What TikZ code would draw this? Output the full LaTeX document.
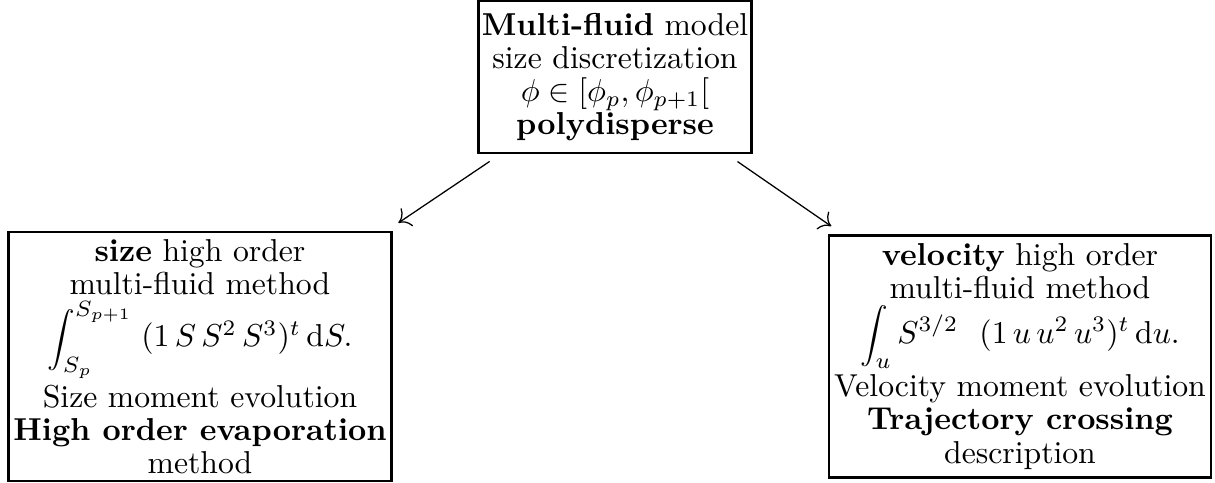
\documentclass[tikz,border=0pt]{standalone}
\usepackage{amsmath}
\usepackage{graphicx}
\usetikzlibrary{arrows.meta}
\newcommand{\limbox}[1]{\scalebox{1.15}{$\scriptstyle #1$}}
\newcommand{\intsmall}[1]{\scalebox{0.87}{$\displaystyle #1$}}
\begin{document}
\begin{tikzpicture}[x=0.3155pt,y=-0.3155pt,
  box/.style={draw,line width=0.8pt,align=center,inner sep=1pt,
    font=\fontsize{10}{10.5}\selectfont},
  link/.style={-{To[length=3.4pt,width=6.8pt]},line width=0.4pt,shorten <=4pt,shorten >=4.5pt}]
\useasboundingbox (0,0) rectangle (1215,482);
\node[box,minimum width=85.2pt,minimum height=48pt] (top) at (615,77)
  {\textbf{Multi-fluid} model\\ size discretization\\ $\phi\in[\phi_p,\phi_{p+1}[$\\ \textbf{polydisperse}};
\node[box,minimum width=121pt,minimum height=78.5pt] (left) at (200,356.5)
  {\textbf{size} high order\\ multi-fluid method\\[1pt]
   $\intsmall{\int_{\limbox{S_p}}^{\limbox{S_{p+1}}}}\; (1\,S\,S^2\,S^3)^t\,\mathrm{d}S.$\\[1pt]
   Size moment evolution\\ \textbf{High order evaporation}\\ method};
\node[box,minimum width=120.5pt,minimum height=76.3pt] (right) at (1020,356.5)
  {\textbf{velocity} high order\\ multi-fluid method\\[1pt]
   $\intsmall{\int_{\limbox{u}}}\, S^{3/2}\ \ (1\,u\,u^2\,u^3)^t\,\mathrm{d}u.$\\[1pt]
   Velocity moment evolution\\ \textbf{Trajectory crossing}\\ description};
\draw[link] (top) -- (left);
\draw[link] (top) -- (right);
\end{tikzpicture}
\end{document}
